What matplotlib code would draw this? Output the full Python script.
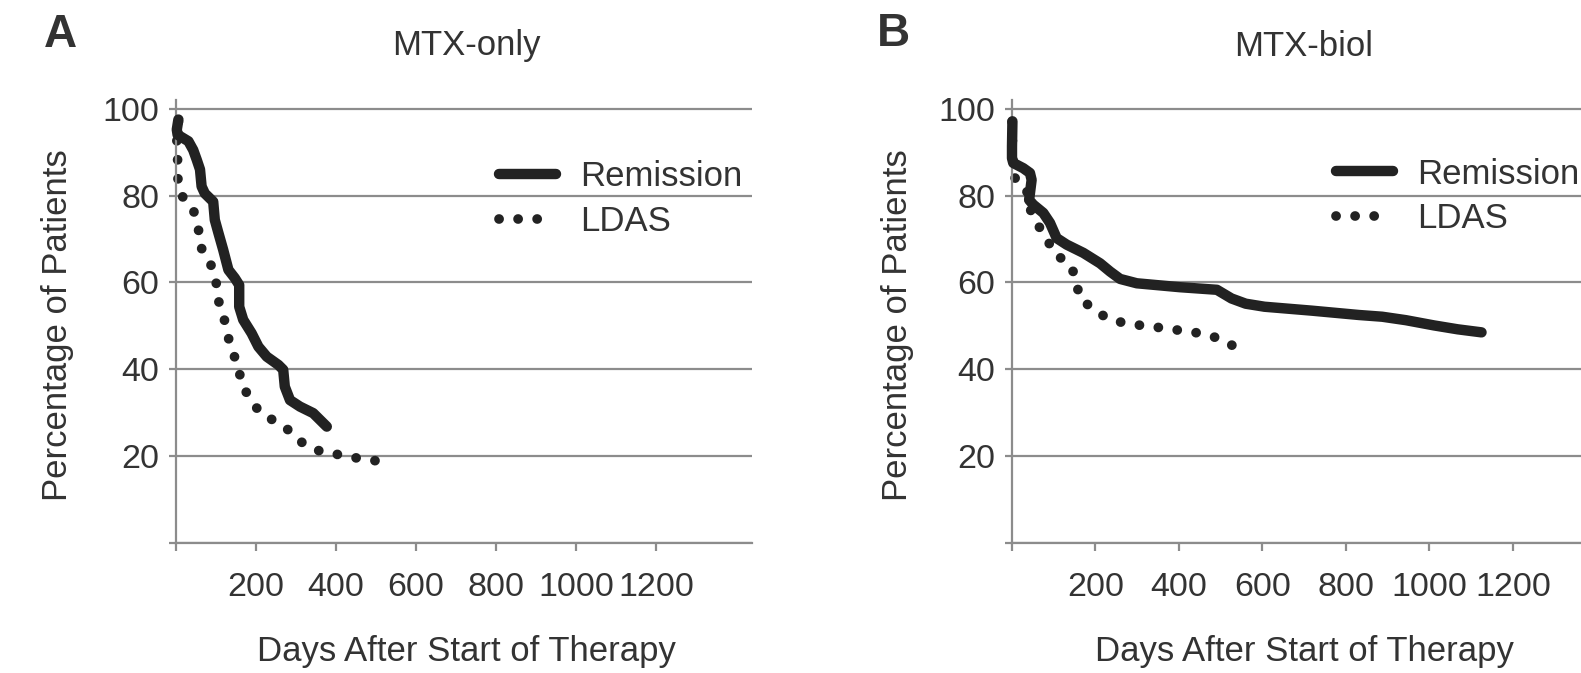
import numpy as np
import matplotlib.pyplot as plt

plt.rcParams['font.family'] = ['Liberation Sans', 'DejaVu Sans']

# Panel A: MTX-only
a_rem_days = [6, 2, 4, 31, 43, 52, 60, 64, 72, 93, 97, 106, 118, 131, 147, 158, 158, 168, 189,
              206, 227, 256, 268, 272, 285, 310, 343, 377]
a_rem_pct = [97.5, 95.2, 94, 92.5, 90.5, 88.2, 86, 82.1, 80.5, 78.6, 74.4, 71.4, 67.5, 62.9,
             61, 59.4, 54.4, 51.4, 48.3, 45.2, 42.9, 41, 39.9, 36, 32.9, 31.4, 29.9, 26.8]
a_ldas_days = [6, 2, 4, 4, 12, 42, 56, 58, 83, 100, 102, 117, 128, 137, 157, 162, 185, 210,
               250, 288, 320, 364, 410, 456, 502]
a_ldas_pct = [97, 92.9, 88.5, 84.3, 80.2, 77.1, 72.9, 68.7, 65, 61.1, 56.9, 52.9, 48.7, 44.6,
              40.9, 36.8, 33.3, 30, 27.9, 25.6, 22.7, 21, 20.3, 19.5, 18.9]

# Panel B: MTX-biol
b_rem_days = [1, 0, 0, 3, 27, 43, 47, 41, 51, 75, 91, 107, 131, 171, 211, 235, 259, 299, 402,
              491, 526, 560, 605, 718, 831, 887, 944, 1011, 1068, 1125]
b_rem_pct = [97.1, 91.3, 88.6, 87.5, 86.3, 85.2, 83.6, 79, 77.9, 76, 73.7, 70.2, 68.7, 66.8,
             64.4, 62.5, 60.8, 59.8, 58.9, 58.3, 56.3, 55.1, 54.4, 53.5, 52.5, 52.1, 51.3,
             50.1, 49.2, 48.5]
b_ldas_days = [0, 3, 35, 39, 57, 81, 101, 137, 155, 160, 195, 231, 275, 319, 362, 406, 450,
               493, 534]
b_ldas_pct = [97, 84.4, 81.7, 77.9, 73.9, 70.6, 66.6, 64.4, 60.8, 56.6, 53.8, 51.6, 50.5, 50,
              49.5, 48.9, 48.3, 47.2, 45.2]

x_ticks = [0, 200, 400, 600, 800, 1000, 1200]
y_ticks = [0, 20, 40, 60, 80, 100]

W, H = 1581, 673
fig = plt.figure(figsize=(W / 100, H / 100), dpi=100)

grey = '#8c8c8c'
ink = '#222222'
txt = '#333333'


def px_axes(left, right, top, bottom):
    return fig.add_axes([left / W, 1 - bottom / H, (right - left) / W, (bottom - top) / H])


def style(ax):
    ax.set_xlim(0, 1440)
    ax.set_ylim(0, 102)
    ax.set_xticks(x_ticks)
    ax.set_xticklabels([''] + [str(t) for t in x_ticks[1:]])
    ax.set_yticks(y_ticks)
    ax.set_yticklabels([''] + [str(t) for t in y_ticks[1:]])
    for s in ['top', 'right']:
        ax.spines[s].set_visible(False)
    for s in ['left', 'bottom']:
        ax.spines[s].set_color(grey)
        ax.spines[s].set_linewidth(1.6)
    ax.tick_params(axis='x', length=6, width=1.6, color=grey, pad=15, labelsize=24.5, labelcolor=txt)
    ax.tick_params(axis='y', length=5, width=1.6, color=grey, pad=7, labelsize=24.5, labelcolor=txt)
    ax.yaxis.grid(True, color=grey, linewidth=1.6)
    ax.set_axisbelow(True)


def curves(ax, rd, rp, ld, lp, anchor):
    ax.plot(rd, rp, color=ink, lw=7.5, solid_capstyle='round', solid_joinstyle='round',
            clip_on=False, label='Remission', zorder=3)
    ax.plot(ld, lp, color=ink, lw=7, linestyle=(0, (0.01, 1.95)), dash_capstyle='round',
            clip_on=False, label='LDAS', zorder=2)
    ax.legend(loc='upper left', bbox_to_anchor=anchor, frameon=False, fontsize=25,
              handlelength=1.65, handletextpad=0.7, labelspacing=0.33, borderpad=0,
              borderaxespad=0, labelcolor=txt)


ax1 = px_axes(176, 752, 100, 543)
style(ax1)
curves(ax1, a_rem_days, a_rem_pct, a_ldas_days, a_ldas_pct, (0.56, 0.864))

ax2 = px_axes(1012, 1613, 100, 543)
style(ax2)
curves(ax2, b_rem_days, b_rem_pct, b_ldas_days, b_ldas_pct, (0.539, 0.87))

# panel letters, titles, axis labels
fig.text(60 / W, 1 - 35 / H, 'A', fontsize=33, fontweight='bold', color=txt, ha='center', va='center')
fig.text(893 / W, 1 - 34 / H, 'B', fontsize=33, fontweight='bold', color=txt, ha='center', va='center')
fig.text(466 / W, 1 - 46 / H, 'MTX-only', fontsize=25, color=txt, ha='center', va='center')
fig.text(1304 / W, 1 - 46 / H, 'MTX-biol', fontsize=25, color=txt, ha='center', va='center')
for xc in [466, 1304]:
    fig.text(xc / W, 1 - 652 / H, 'Days After Start of Therapy', fontsize=25, color=txt,
             ha='center', va='center')
for xc in [58, 897]:
    fig.text(xc / W, 1 - 325 / H, 'Percentage of Patients', fontsize=25, color=txt,
             ha='center', va='center', rotation=90)

plt.savefig('out.png', dpi=100)
